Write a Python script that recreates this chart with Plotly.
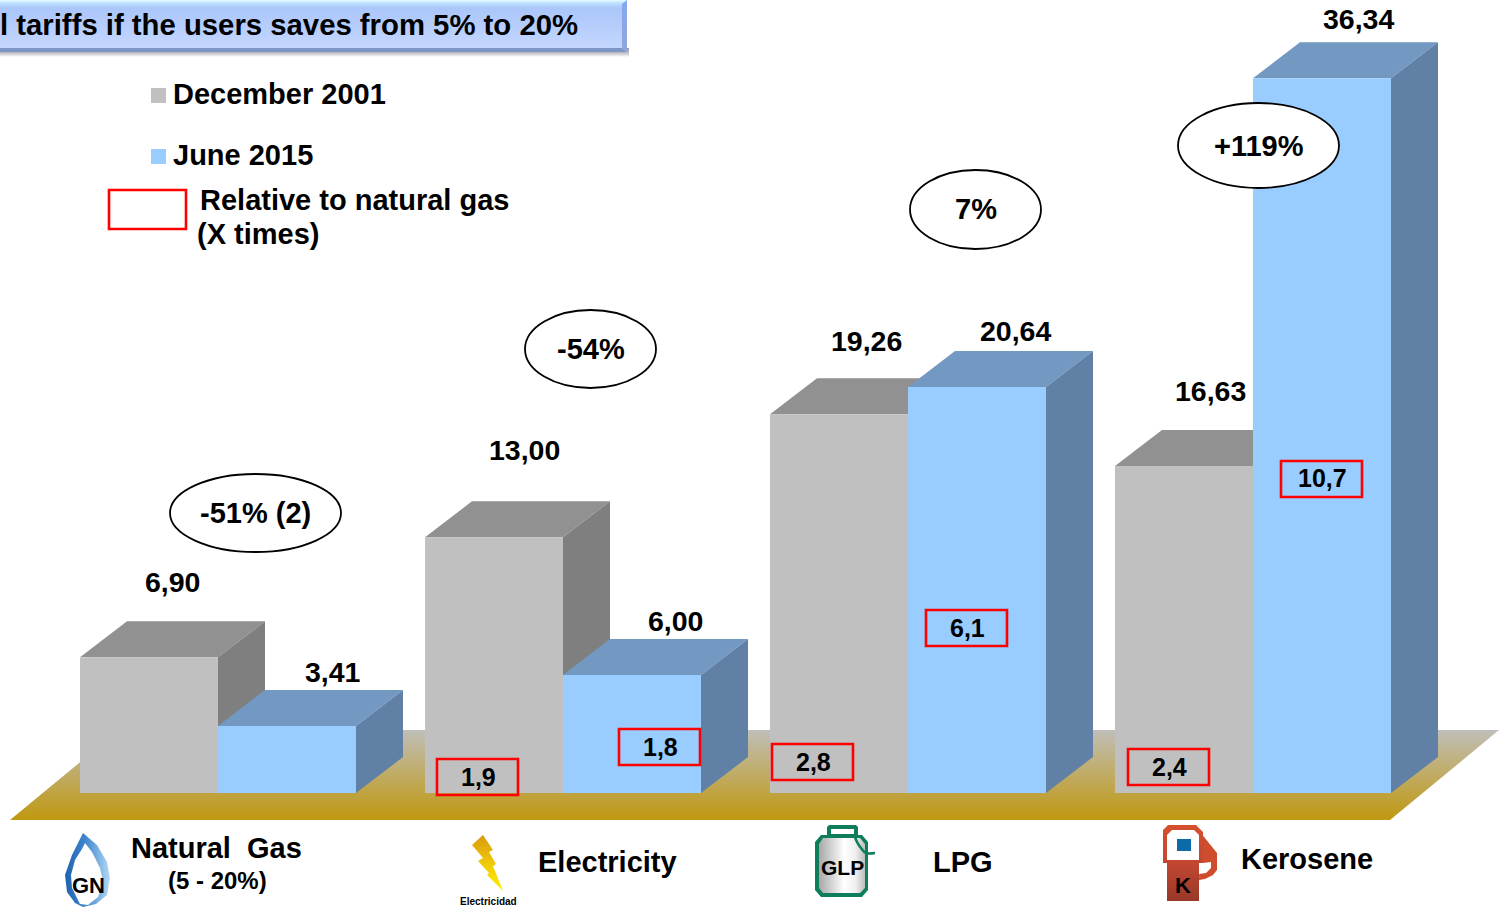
import plotly.graph_objects as go

# ---------- data ----------
categories = ["Natural\u00a0\u00a0Gas", "Electricity", "LPG", "Kerosene"]
december_2001 = [6.90, 13.00, 19.26, 16.63]
june_2015 = [3.41, 6.00, 20.64, 36.34]
dec_labels = ["6,90", "13,00", "19,26", "16,63"]
jun_labels = ["3,41", "6,00", "20,64", "36,34"]
change_labels = ["-51% (2)", "-54%", "7%", "+119%"]
ratio_labels = ["1,9", "1,8", "2,8", "6,1", "2,4", "10,7"]
series_names = ["December 2001", "June 2015"]
title_text = "l tariffs if the users saves from 5% to 20%"

# ---------- geometry / style ----------
W, H = 1499, 908
BASE_PX = 793.0          # pixel row of value 0
PX_PER_VAL = 19.67       # pixels per tariff unit
GROUP_PX = 345.0         # pixels per category step
FIRST_PX = 218.0         # pixel column of category 0 centre
BAR_W = 138.0 / GROUP_PX
DX = 47.0 / GROUP_PX
DY = 36.0 / PX_PER_VAL
FONT = "Liberation Sans"
GREY = ("#C0C0C0", "#919191", "#7F7F7F")
BLUE = ("#99CCFF", "#7399C2", "#6180A6")
X_RANGE = [(0 - FIRST_PX) / GROUP_PX, (W - FIRST_PX) / GROUP_PX]
Y_RANGE = [(BASE_PX - H) / PX_PER_VAL, BASE_PX / PX_PER_VAL]


def xv(px):
    return (px - FIRST_PX) / GROUP_PX


def yv(py):
    return (BASE_PX - py) / PX_PER_VAL


def poly(points, color=None, grad=None, xa="x", ya="y", spline=False):
    xs = [xv(p[0]) for p in points] + [xv(points[0][0])]
    ys = [yv(p[1]) for p in points] + [yv(points[0][1])]
    kw = dict(fillcolor=color) if grad is None else dict(fillgradient=grad)
    return go.Scatter(x=xs, y=ys, mode="lines", fill="toself",
                      line=dict(width=0, shape="spline" if spline else "linear"),
                      hoverinfo="skip", showlegend=False, xaxis=xa, yaxis=ya, **kw)


def vgrad(*stops):
    return dict(type="vertical", colorscale=list(stops))


def hgrad(*stops):
    return dict(type="horizontal", colorscale=list(stops))


def faces(i, value, left, palette, xa, ya):
    """Top and side faces of a 3D bar, from its value."""
    right = left + BAR_W
    top = go.Scatter(x=[left, right, right + DX, left + DX, left],
                     y=[value, value, value + DY, value + DY, value],
                     mode="lines", fill="toself", fillcolor=palette[1], line=dict(width=0),
                     hoverinfo="skip", showlegend=False, xaxis=xa, yaxis=ya)
    side = go.Scatter(x=[right, right + DX, right + DX, right, right],
                      y=[0, DY, value + DY, value, 0],
                      mode="lines", fill="toself", fillcolor=palette[2], line=dict(width=0),
                      hoverinfo="skip", showlegend=False, xaxis=xa, yaxis=ya)
    return [top, side]


fig = go.Figure()
idx = list(range(len(categories)))

# --- layer 1: banner, floor, grey side/top faces
fig.add_trace(poly([(0, 48), (629, 48), (629, 57), (0, 57)],
                   grad=vgrad((0, "#FFFFFF"), (0.5, "#B8B8C0"), (1, "#9A9AA8"))))
fig.add_trace(poly([(0, 0), (627, 0), (627, 52), (0, 52)],
                   grad=vgrad((0, "#C6D8FF"), (0.85, "#ABC6FA"), (0.94, "#BFE0FF"), (1, "#E2FCFF"))))
fig.add_trace(poly([(0, 48), (622, 48), (627, 52), (0, 52)], color="#7F95C6"))
fig.add_trace(poly([(622, 4), (627, 0), (627, 52), (622, 48)],
                   grad=vgrad((0, "#8FA6DC"), (1, "#86A8EE"))))
fig.add_trace(poly([(10, 820), (1390, 820), (1504, 726), (1499, 730), (119, 730)],
                   grad=vgrad((0, "#C09A10"), (0.05, "#C09A18"), (1, "#C0C0C0"))))
for i in idx:
    for t in faces(i, december_2001[i], i - BAR_W, GREY, "x", "y"):
        fig.add_trace(t)

# --- layer 2: grey fronts, blue side/top faces
fig.add_trace(go.Bar(x=[i - BAR_W / 2 for i in idx], y=december_2001, width=BAR_W,
                     name=series_names[0], marker=dict(color=GREY[0], line=dict(width=0)),
                     showlegend=False, xaxis="x2", yaxis="y2", hoverinfo="skip"))
for i in idx:
    for t in faces(i, june_2015[i], i, BLUE, "x2", "y2"):
        fig.add_trace(t)

# --- layer 3: blue fronts
fig.add_trace(go.Bar(x=[i + BAR_W / 2 for i in idx], y=june_2015, width=BAR_W,
                     name=series_names[1], marker=dict(color=BLUE[0], line=dict(width=0)),
                     showlegend=False, xaxis="x3", yaxis="y3", hoverinfo="skip"))

# --- icons
A = dict(xa="x3", ya="y3")
# flame
fig.add_trace(poly([(83, 833), (97, 845), (107, 862), (110, 878), (107, 895), (96, 904), (83, 907),
                    (75, 903), (67, 892), (65, 875), (72, 855)],
                   grad=hgrad((0, "#1F62AE"), (0.45, "#3F86CE"), (1, "#B5D9F4")), **A))
fig.add_trace(poly([(85, 843), (92, 852), (100, 868), (103, 882), (98, 897), (88, 905), (80, 904),
                    (72, 888), (71, 875), (75, 860), (82, 849)], color="#FFFFFF", **A))
# lightning
fig.add_trace(poly([(483, 835), (472, 845), (483, 858), (478, 861), (489, 873), (487, 875), (503, 891),
                    (493, 866), (496, 864), (489, 852), (493, 850)],
                   grad=vgrad((0, "#FFF000"), (0.5, "#F0C808"), (1, "#D99A10")), **A))
# LPG tank
fig.add_trace(poly([(829, 825), (856, 825), (858, 827), (858, 835), (862, 835), (868, 842), (868, 890),
                    (862, 897), (821, 897), (815, 890), (815, 842), (821, 835), (827, 835), (827, 827)],
                   color="#0E7D5C", **A))
fig.add_trace(poly([(831, 829), (854, 829), (854, 834), (831, 834)], color="#FFFFFF", **A))
fig.add_trace(poly([(823, 838), (860, 838), (865, 844), (865, 888), (860, 893), (823, 893),
                    (819, 888), (819, 844)],
                   grad=hgrad((0, "#A8A8A8"), (0.55, "#FFFFFF"), (0.8, "#EEEEEE"), (1, "#BDBDBD")), **A))
fig.add_trace(go.Scatter(x=[xv(v) for v in (855, 857, 861, 866, 875)],
                         y=[yv(v) for v in (837, 842, 848, 853, 853)],
                         mode="lines", line=dict(color="#0E7D5C", width=2.6, shape="spline"),
                         hoverinfo="skip", showlegend=False, xaxis="x3", yaxis="y3"))
# fuel pump
fig.add_trace(poly([(1200, 832), (1205, 838), (1217, 853), (1217, 870), (1213, 875), (1205, 879), (1199, 880)],
                   color="#CF4D2E", **A))
fig.add_trace(poly([(1203, 863), (1211, 862), (1211, 868), (1206, 873), (1199, 874), (1199, 863)],
                   color="#FFFFFF", **A))
fig.add_trace(poly([(1168, 825), (1196, 825), (1203, 832), (1203, 863), (1199, 863), (1199, 901),
                    (1167, 901), (1167, 863), (1163, 863), (1163, 830)],
                   grad=vgrad((0, "#983828"), (0.5, "#C24731"), (1, "#D4502F")), **A))
fig.add_trace(poly([(1172, 830), (1194, 830), (1199, 835), (1199, 860), (1167, 860), (1167, 835)],
                   color="#FFFFFF", **A))
fig.add_trace(poly([(1177, 839), (1191, 839), (1191, 851), (1177, 851)], color="#0D6AA8", **A))


# ---------- text ----------
def label(text, px, py, size=29, anchor="center", color="#000000", family=FONT, weight=700, **kw):
    fig.add_annotation(x=px / W, y=1 - py / H, xref="paper", yref="paper", text=text, showarrow=False,
                       xanchor=anchor, yanchor="middle", align="center",
                       font=dict(family=family, size=size, color=color, weight=weight), **kw)


# value labels anchored on bar tops
DEC_SHIFT = [(23, 75), (30, 87), (27, 73), (26, 75)]
JUN_SHIFT = [(46, 54), (43, 54), (38, 56), (36, 59)]
for i in idx:
    fig.add_annotation(x=i - BAR_W / 2, y=december_2001[i], xref="x", yref="y", text=dec_labels[i],
                       showarrow=False, xshift=DEC_SHIFT[i][0], yshift=DEC_SHIFT[i][1],
                       font=dict(family=FONT, size=28.5, color="#000000", weight=700))
    fig.add_annotation(x=i + BAR_W / 2, y=june_2015[i], xref="x", yref="y", text=jun_labels[i],
                       showarrow=False, xshift=JUN_SHIFT[i][0], yshift=JUN_SHIFT[i][1],
                       font=dict(family=FONT, size=28.5, color="#000000", weight=700))

# change ellipses
ELLIPSES = [(170, 474, 341, 552), (525, 310, 656, 388), (910, 170, 1041, 249), (1178, 103, 1339, 188)]
for txt, (x0, y0, x1, y1) in zip(change_labels, ELLIPSES):
    fig.add_shape(type="circle", xref="paper", yref="paper", x0=x0 / W, x1=x1 / W, y0=1 - y0 / H, y1=1 - y1 / H,
                  fillcolor="#FFFFFF", line=dict(color="#000000", width=1.8))
    label(txt, (x0 + x1) / 2, (y0 + y1) / 2, size=29)

# red ratio boxes
RATIO_BOXES = [(437, 759), (619, 729), (772, 744), (926, 610), (1128, 749), (1281, 461)]
for txt, (x0, y0) in zip(ratio_labels, RATIO_BOXES):
    fig.add_shape(type="rect", xref="paper", yref="paper", x0=x0 / W, x1=(x0 + 81) / W,
                  y0=1 - y0 / H, y1=1 - (y0 + 36) / H, line=dict(color="#FF0000", width=2.6))
    label(txt, x0 + 41, y0 + 17.5, size=25)

# legend drawn as in the reference
for (x0, y0), col in zip([(151, 88), (151, 149)], [GREY[0], BLUE[0]]):
    fig.add_shape(type="rect", xref="paper", yref="paper", x0=x0 / W, x1=(x0 + 15) / W,
                  y0=1 - y0 / H, y1=1 - (y0 + 15) / H, fillcolor=col, line=dict(width=0))
label(series_names[0], 171, 94, size=29, anchor="left")
label(series_names[1], 171, 155, size=29, anchor="left")
fig.add_shape(type="rect", xref="paper", yref="paper", x0=109 / W, x1=186 / W, y0=1 - 190 / H, y1=1 - 229 / H,
              line=dict(color="#FF0000", width=2.6))
label("Relative to natural gas", 198, 200, size=29, anchor="left")
label("(X times)", 195, 234, size=29, anchor="left")
label(title_text, -2, 24.5, size=29.3, anchor="left")

# category captions
label(categories[0], 129, 848, anchor="left", size=29)
label("(5 - 20%)", 217, 880, size=24)
label(categories[1], 536, 861.5, anchor="left", size=29)
label(categories[2], 931, 861.5, anchor="left", size=29)
label(categories[3], 1239, 858.5, anchor="left", size=29)

# text inside the icons
label("GN", 88, 885, size=22)
label("Electricidad", 488, 901, size=10)
label("GLP", 842, 867, size=21)
label("K", 1183, 885, size=22)

axis_common = dict(visible=False, fixedrange=True)
fig.update_layout(
    width=W, height=H, margin=dict(l=0, r=0, t=0, b=0, pad=0),
    paper_bgcolor="#FFFFFF", plot_bgcolor="#FFFFFF", showlegend=False,
    barmode="overlay",
    xaxis=dict(range=X_RANGE, **axis_common),
    yaxis=dict(range=Y_RANGE, **axis_common),
    xaxis2=dict(range=X_RANGE, overlaying="x", **axis_common),
    yaxis2=dict(range=Y_RANGE, overlaying="y", **axis_common),
    xaxis3=dict(range=X_RANGE, overlaying="x", **axis_common),
    yaxis3=dict(range=Y_RANGE, overlaying="y", **axis_common),
)

fig.write_html("out.html", config={"displayModeBar": False},
               post_script="document.body.style.margin='0';document.body.style.overflow='hidden';")
